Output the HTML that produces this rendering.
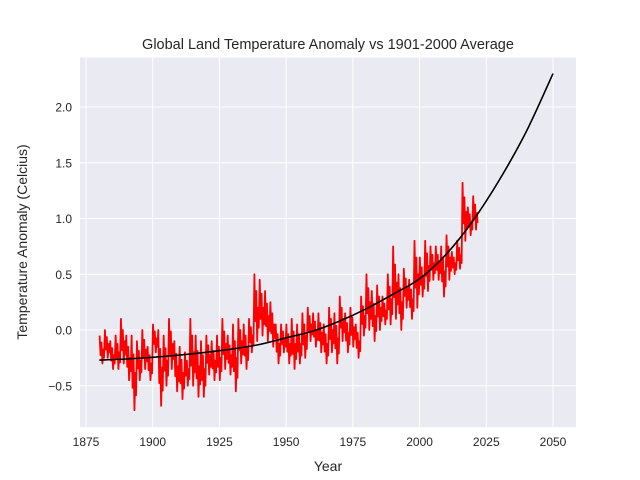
<!DOCTYPE html>
<html><head><meta charset="utf-8"><style>
html,body{margin:0;padding:0;background:#fff;}
svg{display:block;font-family:"Liberation Sans","DejaVu Sans",sans-serif;}
</style></head><body>
<svg id="chart" width="640" height="480" viewBox="0 0 640 480">
<rect x="80" y="57.6" width="496" height="369.6" fill="#eaeaf2"/>
<g id="grid"></g>
<g id="ticks"></g>
<g id="series"></g>
<text x="328" y="49" text-anchor="middle" font-size="14.5" fill="#262626">Global Land Temperature Anomaly vs 1901-2000 Average</text>
<text x="328" y="471" text-anchor="middle" font-size="14" fill="#262626">Year</text>
<text transform="translate(27,242) rotate(-90)" text-anchor="middle" font-size="14" fill="#262626">Temperature Anomaly (Celcius)</text>
</svg>
<script>
const xTicks=[1875,1900,1925,1950,1975,2000,2025,2050];
const yTicks=[-0.5,0.0,0.5,1.0,1.5,2.0];
const yTickLabels=["−0.5","0.0","0.5","1.0","1.5","2.0"];
const binYears=[1880,1882,1884,1886,1888,1890,1892,1894,1896,1898,1900,1902,1904,1906,1908,1910,1912,1914,1916,1918,1920,1922,1924,1926,1928,1930,1932,1934,1936,1938,1940,1942,1944,1946,1948,1950,1952,1954,1956,1958,1960,1962,1964,1966,1968,1970,1972,1974,1976,1978,1980,1982,1984,1986,1988,1990,1992,1994,1996,1998,2000,2002,2004,2006,2008,2010,2012,2014,2016,2018,2020];
const anomalyHigh=[-0.05,0.0,-0.1,-0.05,0.1,-0.05,-0.05,-0.1,0.0,-0.15,0.05,0.0,-0.05,0.1,-0.1,-0.15,-0.2,0.1,-0.05,-0.1,-0.05,-0.1,-0.05,0.1,-0.05,0.05,0.1,0.05,0.1,0.5,0.45,0.35,0.25,0.05,0.05,0.05,0.1,0.05,0.15,0.2,0.15,0.15,0.05,0.2,0.15,0.3,0.15,0.2,0.05,0.3,0.5,0.35,0.4,0.3,0.5,0.75,0.5,0.55,0.45,0.8,0.65,0.8,0.75,0.75,0.75,0.85,0.7,0.8,1.32,1.1,1.2];
const anomalyLow=[-0.3,-0.25,-0.35,-0.35,-0.3,-0.45,-0.72,-0.45,-0.35,-0.45,-0.2,-0.68,-0.5,-0.35,-0.55,-0.62,-0.5,-0.5,-0.6,-0.6,-0.4,-0.45,-0.45,-0.35,-0.4,-0.55,-0.3,-0.35,-0.2,-0.1,-0.05,-0.1,-0.15,-0.3,-0.2,-0.3,-0.35,-0.3,-0.25,-0.1,-0.15,-0.2,-0.3,-0.2,-0.3,-0.1,-0.2,-0.15,-0.25,-0.05,0.0,-0.1,0.0,0.05,0.05,0.1,0.0,0.2,0.1,0.2,0.3,0.35,0.45,0.45,0.3,0.45,0.5,0.55,0.8,0.85,0.9];
const fitYears=[1880,1890,1900,1910,1920,1930,1940,1950,1960,1970,1980,1990,2000,2010,2020,2030,2040,2050];
const fitValues=[-0.27,-0.26,-0.245,-0.225,-0.2,-0.17,-0.13,-0.07,-0.01,0.08,0.19,0.32,0.46,0.68,0.98,1.35,1.78,2.3];

const L=80,R=576,T=57.6,B=427.2;
const xs=y=>86+(y-1875)*(467/175);
const ys=v=>330-v*111.5;
const NS="http://www.w3.org/2000/svg";
function mk(tag,attrs,parent){const e=document.createElementNS(NS,tag);for(const k in attrs)e.setAttribute(k,attrs[k]);parent.appendChild(e);return e;}
const grid=document.getElementById('grid'),ticks=document.getElementById('ticks'),series=document.getElementById('series');
xTicks.forEach(t=>{
  const l=mk('line',{x1:xs(t),x2:xs(t),y1:T,y2:B,stroke:'#fff','stroke-width':1},grid);
  
  
  const tx=mk('text',{x:xs(t),y:446,'text-anchor':'middle','font-size':12,fill:'#262626'},ticks);
  tx.textContent=t;
  
  
});
yTicks.forEach((t,i)=>{
  const l=mk('line',{x1:L,x2:R,y1:ys(t),y2:ys(t),stroke:'#fff','stroke-width':1},grid);
  
  
  const tx=mk('text',{x:72,y:ys(t)+4.5,'text-anchor':'end','font-size':12,fill:'#262626'},ticks);
  tx.textContent=yTickLabels[i];
  
  
});
let pts=[];
binYears.forEach((y,i)=>{
  const h=anomalyHigh[i],l=anomalyLow[i];
  pts.push(xs(y+0.1)+','+ys(h));
  pts.push(xs(y+0.45)+','+ys(l*0.7+h*0.3));
  pts.push(xs(y+0.8)+','+ys(h*0.75+l*0.25));
  pts.push(xs(y+1.15)+','+ys(l));
  pts.push(xs(y+1.5)+','+ys(h*0.5+l*0.5));
  pts.push(xs(y+1.75)+','+ys(l*0.8+h*0.2));
});
const d=mk('polyline',{points:pts.join(' '),fill:'none',stroke:'#ff0000','stroke-width':1.8,'stroke-linejoin':'round'},series);


// smooth fit via Catmull-Rom
const P=fitYears.map((y,i)=>[xs(y),ys(fitValues[i])]);
let fd='M'+P[0][0]+','+P[0][1];
for(let i=0;i<P.length-1;i++){
  const p0=P[Math.max(0,i-1)],p1=P[i],p2=P[i+1],p3=P[Math.min(P.length-1,i+2)];
  const c1=[p1[0]+(p2[0]-p0[0])/6,p1[1]+(p2[1]-p0[1])/6];
  const c2=[p2[0]-(p3[0]-p1[0])/6,p2[1]-(p3[1]-p1[1])/6];
  fd+=' C'+c1[0]+','+c1[1]+' '+c2[0]+','+c2[1]+' '+p2[0]+','+p2[1];
}
const f=mk('path',{d:fd,fill:'none',stroke:'#000','stroke-width':1.6},series);


</script>
</body></html>
